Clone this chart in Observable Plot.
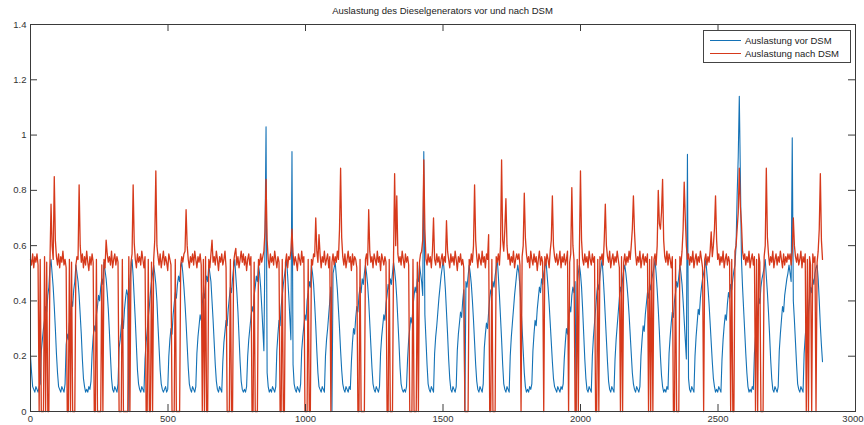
<!DOCTYPE html>
<html><head><meta charset="utf-8">
<script src="https://cdn.jsdelivr.net/npm/d3@7"></script>
<script src="https://cdn.jsdelivr.net/npm/@observablehq/plot@0.6"></script>
<style>
body{margin:0;background:#fff;font-family:"Liberation Sans",Arial,sans-serif;}
#wrap{position:relative;width:864px;height:425px;overflow:hidden;}
#title{position:absolute;left:30px;width:825px;top:5px;text-align:center;font-size:9.5px;color:#222;}
#legend{position:absolute;left:703px;top:30px;width:148px;height:33px;border:1px solid #444;background:#fff;box-sizing:border-box;font-size:9.5px;color:#222;}
.row{position:absolute;left:6px;height:12px;display:flex;align-items:center;white-space:nowrap;}
.sw{width:31px;height:0;border-top:1px solid;margin-right:4px;}
</style></head><body>
<div id="wrap"><div id="chart"></div><div id="title"></div><div id="legend"></div></div>
<script>
const title = "Auslastung des Dieselgenerators vor und nach DSM";
const seriesNames = ["Auslastung vor DSM", "Auslastung nach DSM"];
const seriesColors = ["#1472b6", "#d6391b"];
const xTicks = [0, 500, 1000, 1500, 2000, 2500, 3000];
const yTicks = [0, 0.2, 0.4, 0.6, 0.8, 1, 1.2, 1.4];
const xEnd = 2880; // last time step of both series

// Auslastung vor DSM (blue), equally spaced samples from 0 to xEnd
const vorDSM = [
.20,.14,.09,.08,.07,.09,.08,.07,.09,.10,.22,.26,.30,.33,.38,.36,.42,.45,
.52,.55,.50,.45,.38,.30,.21,.14,.09,.08,.07,.09,.08,.07,.10,.24,.28,.26,.32,.35,.40,.38,.44,.47,
.53,.50,.47,.42,.35,.28,.19,.12,.09,.07,.08,.07,.09,.08,.11,.21,.27,.31,.29,.35,.38,.42,.40,.45,.48,.46,
.54,.51,.48,.43,.37,.29,.20,.12,.08,.07,.09,.08,.07,.10,.23,.26,.31,.34,.30,.37,.41,.44,.42,0,.47,
.52,.55,.49,.41,.33,.24,.15,.10,.08,.07,.09,.08,.07,.19,.25,.29,.34,.38,.43,.47,.50,
.53,.50,.46,.40,.31,.23,.15,.10,.08,.07,.08,.09,.07,.08,.20,.26,.30,.28,.35,.39,.43,.41,.46,.49,.47,
.52,.54,.50,.45,.39,.32,.24,.16,.10,.08,.07,.09,.08,.07,.09,.21,.27,.31,.35,.33,.39,.43,.41,.46,.49,.47,
.53,.50,.47,.40,.33,.25,.17,.11,.08,.07,.09,.08,.07,.18,.25,.29,.33,.31,.37,.41,.45,.43,.48,
.52,.55,.49,.43,.36,.27,.18,.11,.08,.07,.08,.07,.09,.20,.26,.30,.34,.38,.36,.42,.45,.49,.47,
.53,.50,.45,.38,.30,.22,.60,1.03,.14,.09,.07,.08,.07,.09,.08,.07,.09,.22,.28,.33,.31,.38,.42,.46,.49,
.52,.55,.49,.42,.34,.26,.94,.17,.10,.08,.07,.09,.08,.07,.10,.22,.27,.31,.35,.33,.40,.43,.47,.45,
.53,.50,.46,.39,.31,.22,.14,.09,.08,.07,.09,.08,.07,.20,.26,.30,.35,.40,.45,0,.50,
.52,.54,.49,.44,.37,.30,.22,.15,.10,.08,.07,.09,.08,.07,.09,.08,.18,.25,.30,.28,.34,.38,.36,.42,.45,.43,.48,.46,.50,
.53,.50,.46,.40,.32,.24,.16,.10,.08,.07,.09,.08,.07,.09,.21,.27,.31,.35,.33,.39,.42,.46,.44,.48,.46,.50,
.54,.51,.47,.41,.33,.25,.16,.10,.08,.07,.08,.07,.09,.19,.26,.30,.34,.32,.38,.42,.45,.43,.48,.47,
.53,.50,.47,.42,.94,.35,.26,.17,.10,.08,.07,.09,.08,.07,.21,.27,.31,.36,.41,.45,.49,
.52,.55,.50,.44,.36,.28,.19,.12,.08,.07,.09,.08,.07,.09,.22,.28,.32,.36,.34,.40,.44,0,.47,.45,.49,
.53,.50,.46,.40,.33,.25,.17,.11,.08,.07,.09,.08,.07,.10,.23,.28,.32,.30,.36,.41,.44,.42,.47,.45,.49,
.52,.55,.49,.42,.34,.26,.17,.10,.08,.07,.09,.08,.07,.20,.27,.32,.37,.42,.46,.50,
.53,.50,.45,.38,.30,.22,.14,.09,.07,.08,.07,.09,.08,.10,.22,.28,.33,.31,.37,.41,.45,.43,.48,.46,.50,
.52,.55,.50,.45,.39,.32,.25,.18,.12,.09,.08,.07,.09,.08,.07,.09,.08,.10,.19,.25,.30,.28,.34,.38,.36,.42,.45,.43,.47,0,.46,.50,
.53,.50,.45,.37,.28,.19,.12,.08,.07,.09,.08,.07,.20,.27,.32,.37,.42,.46,.44,.49,
.52,.55,.49,.42,.34,.26,.18,.11,.08,.07,.09,.08,.07,.19,.26,.31,.36,.41,.45,.43,.48,.51,
.53,.50,.46,.41,.35,.28,.21,.14,.10,.08,.07,.09,.08,.07,.09,.20,.26,.31,.29,.35,.39,.43,.41,.46,.44,.48,.50,
.52,.55,.50,.44,.37,.29,.20,.13,.09,.07,.08,.07,.09,.08,.21,.27,.32,.36,.34,.40,.43,.47,.45,.49,
.53,.50,.46,.40,.33,.26,.19,.93,.12,.08,.07,.09,.08,.07,.20,.27,.32,.37,.35,.41,.45,.48,.50,
.52,.55,.50,.45,.39,.32,.25,.18,.12,.09,.07,.08,.07,.09,.08,.07,.19,.26,.31,.35,.33,.39,.43,.41,.46,.44,.48,.51,
.53,.60,.78,.92,1.14,.85,.55,.45,.37,.29,.21,.14,.09,.07,.08,.07,.09,.08,.21,.27,.32,.36,.41,.39,.45,.48,.50,
.52,.55,.49,.43,.36,.28,.19,.12,.08,.07,.09,.08,.07,.09,.22,.28,.33,.38,.36,.42,.45,.48,.50,
.53,.50,.47,.99,.40,.33,.25,.17,.10,.08,.07,.09,.08,.07,.21,.27,.32,.30,.36,.41,.45,.43,.48,.46,.50,.52,
.53,.48,.40,.31,.24,.18
];

// Auslastung nach DSM (red), equally spaced samples from 0 to xEnd
const nachDSM = [
.55,.53,.57,.52,.56,.54,.57,.53,0,.55,0,0,0,.56,0,.54,0,0,
.54,.75,.60,.55,.85,.62,.56,.53,.57,.52,.56,.54,.58,.53,.55,.52,0,0,.55,0,.54,0,0,0,
.53,.56,.55,.82,.60,.54,.57,.52,.56,.53,.58,.54,.51,.56,.53,.57,.54,0,0,.55,0,0,0,0,.53,0,
.55,.52,.62,.57,.54,.56,.53,.58,.52,.55,.57,.53,.56,.54,0,0,0,.55,0,0,0,0,0,.56,0,
.54,.57,.82,.61,.55,.52,.57,.54,.56,.53,.58,.55,.52,.56,0,0,.55,0,0,.54,0,
.55,.62,.87,.60,.56,.53,.57,.52,.55,.58,.53,.56,.54,.51,.57,.55,.53,0,0,0,.55,0,0,0,0,
.53,.56,.54,.57,.58,.73,.60,.55,.52,.56,.54,.57,.53,.58,.55,.52,.56,.54,.57,.53,0,.55,0,.56,0,0,
.55,.52,.57,.62,.54,.56,.53,.58,.55,.51,.56,.54,.57,.53,.55,.58,.52,0,0,0,.55,0,0,
.54,.57,.59,.53,.56,.52,.55,.58,.54,.57,.53,.56,.51,.55,.57,.53,.56,0,0,.54,0,0,0,
.55,.53,.57,.54,.56,.58,.65,.84,.62,.55,.52,.57,.54,.56,.53,.58,.55,.52,.56,.54,0,0,.55,0,0,
.54,.57,.52,.56,.55,.58,.66,.57,.53,.56,.54,.51,.57,.55,.53,.58,.54,.56,0,0,0,.55,0,0,
.55,.53,.57,.56,.70,.58,.54,.64,.57,.52,.56,.54,.58,.53,.55,.57,.52,.56,0,.54,.57,
.53,.56,.54,.58,.55,.66,.88,.63,.56,.53,.57,.52,.55,.58,.54,.56,.51,.57,.53,.56,.55,.52,0,0,.55,0,0,0,0,
.55,.57,.53,.73,.58,.54,.56,.52,.57,.55,.53,.58,.54,.56,.51,.57,.55,.53,.56,.54,0,0,.55,0,0,0,
.56,.86,.60,.78,.57,.54,.56,.53,.58,.55,.52,.57,.54,.56,.53,0,0,0,.55,0,0,0,.54,0,
.54,.57,.58,.62,.91,.66,.55,.53,.57,.54,.56,.52,.58,.70,.55,.53,.57,.54,.56,.52,.55,
.57,.53,.56,.54,.69,.58,.55,.52,.57,.54,.56,.53,.58,.55,.51,.56,.54,.57,.53,.55,.52,0,0,0,0,
.55,.53,.57,.54,.60,.82,.62,.56,.52,.57,.55,.53,.58,.54,.56,.52,.57,.55,.64,0,0,.55,0,0,0,
.56,.54,.57,.53,.60,.91,.62,.58,.66,.77,.60,.55,.57,.53,.56,.54,.58,.52,.55,.57,
.55,.57,.53,0,.56,.60,.79,.63,.57,.54,.56,.52,.58,.55,.53,.57,.54,.56,.51,.55,.58,.53,.56,.54,0,
.56,.53,.57,.55,.52,.58,.62,.78,.60,.56,.54,.57,.53,.55,.58,.52,.56,.54,.57,.53,.55,.58,0,.54,.57,.81,.60,.55,0,0,.55,0,
.58,.87,.62,.55,.53,.57,.54,.56,.52,.58,.55,.53,.57,.54,.56,0,0,.55,0,.56,
.55,.57,.53,.62,.75,.60,.56,.54,.58,.52,.55,.57,.53,.56,.54,.58,.55,.52,0,.56,0,.54,
.57,.53,.56,.54,.58,.55,.60,.66,.78,.65,.57,.53,.56,.54,.58,.52,.55,.57,.53,.56,.54,.57,0,.55,0,.56,0,
.55,.57,.53,.60,.80,.68,.66,.72,.84,.62,.56,.54,.58,.53,.57,.55,.52,.56,0,0,.55,0,0,0,
.56,.53,.58,.66,.83,.70,.60,.55,.57,.53,.56,.54,.58,.52,.55,.57,.53,.56,.54,.58,.55,.52,0,
.55,.57,.53,.56,.54,.58,.65,.56,.60,.66,.78,.62,.55,.57,.53,.56,.54,.58,.52,.55,.57,.53,.56,.54,0,.55,0,0,
.58,.60,.66,.72,.88,.74,.68,.58,.55,.57,.53,.56,.54,.58,.52,.55,.57,.53,.56,0,.55,0,.57,.54,0,0,0,
.56,.60,.88,.63,.57,.53,.56,.54,.58,.52,.55,.57,.53,.56,.54,.58,.55,.52,.57,.53,.56,.54,.57,
.55,.57,.53,.58,.70,.60,.56,.54,.57,.53,.55,.58,.52,.56,.54,.57,0,.55,0,.56,.53,0,.57,.54,.56,0,
.54,.58,.66,.86,.62,.55
];

const toRows = arr => arr.map((y, i) => ({x: i * xEnd / (arr.length - 1), y}));
const vorRows = toRows(vorDSM);
const nachRows = toRows(nachDSM);

document.getElementById("title").textContent = title;
const legend = document.getElementById("legend");
seriesNames.forEach((name, i) => {
  const row = document.createElement("div");
  row.className = "row";
  row.style.top = (3 + i * 13.5) + "px";
  const sw = document.createElement("div");
  sw.className = "sw";
  sw.style.borderColor = seriesColors[i];
  const tx = document.createElement("span");
  tx.textContent = name;
  row.appendChild(sw); row.appendChild(tx);
  legend.appendChild(row);
});

const W = 864, H = 425, mL = 30, mR = 9, mT = 24, mB = 14;
const tickLen = 7;
const fw = W - mL - mR, fh = H - mT - mB;
const axisColor = "#3a3a3a";
const fmt = d => String(d);

const chart = Plot.plot({
  width: W, height: H,
  marginLeft: mL, marginRight: mR, marginTop: mT, marginBottom: mB,
  style: {fontFamily: "'Liberation Sans', Arial, sans-serif", fontSize: "9.5px", color: "#333", background: "#fff"},
  x: {domain: [0, 3000], axis: null},
  y: {domain: [0, 1.4], ticks: yTicks, tickSize: 0, tickPadding: 4, tickFormat: fmt, label: null},
  marks: [
    Plot.line(vorRows, {x: "x", y: "y", stroke: seriesColors[0], strokeWidth: 1.1}),
    Plot.line(nachRows, {x: "x", y: "y", stroke: seriesColors[1], strokeWidth: 1.3}),
    Plot.ruleX(xTicks, {x: d => d, insetTop: fh - tickLen, stroke: axisColor}),
    Plot.ruleX(xTicks, {x: d => d, insetBottom: fh - tickLen, stroke: axisColor}),
    Plot.ruleY(yTicks, {y: d => d, insetRight: fw - tickLen, stroke: axisColor}),
    Plot.ruleY(yTicks, {y: d => d, insetLeft: fw - tickLen, stroke: axisColor}),
    Plot.axisX(xTicks.slice(0, -1), {tickSize: 0, tickPadding: 4, tickFormat: fmt, label: null}),
    Plot.axisX(xTicks.slice(-1), {tickSize: 0, tickPadding: 4, tickFormat: fmt, label: null, textAnchor: "end", dx: 8}),
    Plot.frame({stroke: axisColor})
  ]
});
document.getElementById("chart").appendChild(chart);
</script>
</body></html>
